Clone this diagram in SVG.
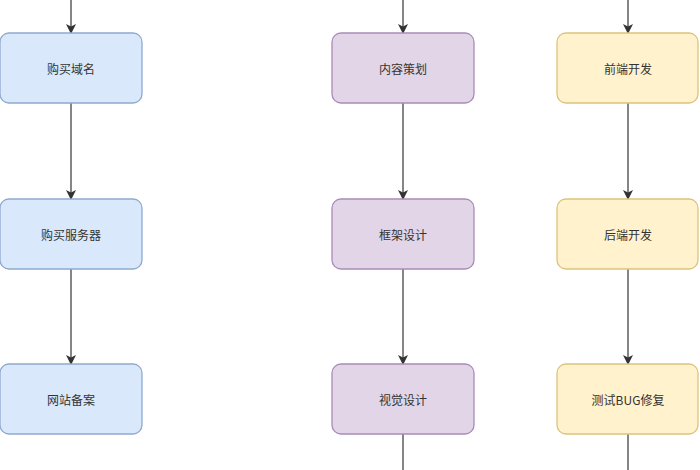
<svg xmlns="http://www.w3.org/2000/svg" width="700" height="470" viewBox="0 0 700 470">
<defs>
<marker id="ah" markerWidth="10" markerHeight="10" refX="9" refY="5" orient="auto" markerUnits="userSpaceOnUse"><path d="M0,0 L10,5 L0,10 L2.5,5 Z" fill="#333"/></marker>
<style>
.b rect{stroke-width:1.3}
.blue rect{fill:#dae8fc;stroke:#8fa9cf}
.pur rect{fill:#e1d5e7;stroke:#a98cb8}
.yel rect{fill:#fff2cc;stroke:#ddc37a}
text{font-family:"Noto Sans CJK SC","Liberation Sans",sans-serif;font-size:12px;fill:#333;text-anchor:middle;dominant-baseline:central}
.c line{stroke:#444;stroke-width:1.3}
</style>
</defs>
<rect width="700" height="470" fill="#fff"/>
<g class="c">
<line x1="71" y1="0" x2="71" y2="33" marker-end="url(#ah)"/>
<line x1="71" y1="103" x2="71" y2="199" marker-end="url(#ah)"/>
<line x1="71" y1="269" x2="71" y2="364" marker-end="url(#ah)"/>
<line x1="403" y1="0" x2="403" y2="33" marker-end="url(#ah)"/>
<line x1="403" y1="103" x2="403" y2="199" marker-end="url(#ah)"/>
<line x1="403" y1="269" x2="403" y2="364" marker-end="url(#ah)"/>
<line x1="403" y1="434" x2="403" y2="470"/>
<line x1="628" y1="0" x2="628" y2="33" marker-end="url(#ah)"/>
<line x1="628" y1="103" x2="628" y2="199" marker-end="url(#ah)"/>
<line x1="628" y1="269" x2="628" y2="364" marker-end="url(#ah)"/>
<line x1="628" y1="434" x2="628" y2="470"/>
</g>
<g id="n1" class="b blue"><rect x="0" y="33" width="142" height="70" rx="9"/><text x="71" y="68">购买域名</text></g>
<g id="n2" class="b blue"><rect x="0" y="199" width="142" height="70" rx="9"/><text x="71" y="234">购买服务器</text></g>
<g id="n3" class="b blue"><rect x="0" y="364" width="142" height="70" rx="9"/><text x="71" y="399">网站备案</text></g>
<g id="n4" class="b pur"><rect x="332" y="33" width="142" height="70" rx="9"/><text x="403" y="68">内容策划</text></g>
<g id="n5" class="b pur"><rect x="332" y="199" width="142" height="70" rx="9"/><text x="403" y="234">框架设计</text></g>
<g id="n6" class="b pur"><rect x="332" y="364" width="142" height="70" rx="9"/><text x="403" y="399">视觉设计</text></g>
<g id="n7" class="b yel"><rect x="557" y="33" width="141" height="70" rx="9"/><text x="628" y="68">前端开发</text></g>
<g id="n8" class="b yel"><rect x="557" y="199" width="141" height="70" rx="9"/><text x="628" y="234">后端开发</text></g>
<g id="n9" class="b yel"><rect x="557" y="364" width="141" height="70" rx="9"/><text x="628" y="399">测试BUG修复</text></g>
</svg>
